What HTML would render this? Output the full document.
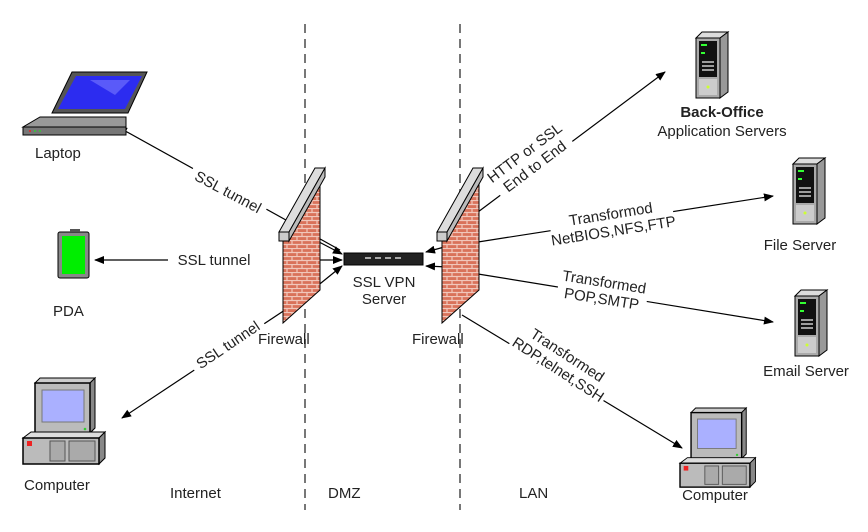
<!DOCTYPE html>
<html><head><meta charset="utf-8"><style>
html,body{margin:0;padding:0;background:#fff;}
svg{display:block;}
text{font-family:"Liberation Sans",sans-serif;font-size:15px;fill:#222;}
</style></head><body>
<svg width="868" height="532" viewBox="0 0 868 532" xmlns="http://www.w3.org/2000/svg">
<defs>
<marker id="ar" markerWidth="10" markerHeight="8" refX="9" refY="4" orient="auto" markerUnits="userSpaceOnUse">
<path d="M0,0 L10,4 L0,8 z" fill="#000"/></marker>
<pattern id="brick" width="10" height="8" patternUnits="userSpaceOnUse">
<rect width="10" height="8" fill="#d9725a"/>
<path d="M0,0.5H10M0,4.5H10M2,0V4M7,4V8" stroke="#f1c7bb" stroke-width="1.2"/>
</pattern>
<g id="tower">
<polygon points="0,6 6,0 32,0 24,6" fill="#ddd" stroke="#000"/>
<polygon points="24,6 32,0 32,60 24,66" fill="#999" stroke="#000"/>
<rect x="0" y="6" width="24" height="60" fill="#aaa" stroke="#000"/>
<rect x="3" y="9" width="18" height="36" fill="#111"/>
<rect x="5" y="12" width="6" height="2" fill="#3f3"/>
<rect x="5" y="20" width="4" height="2" fill="#3f3"/>
<path d="M6,30H18M6,34H18M6,38H18" stroke="#ccc" stroke-width="1.5"/>
<rect x="3" y="47" width="18" height="16" fill="#ccc"/>
<circle cx="12" cy="55" r="1.5" fill="#cf3"/>
</g>
<g id="pc">
<polygon points="12,5 17,0 72,0 67,5" fill="#ccc" stroke="#000"/>
<polygon points="67,5 72,0 72,50 67,55" fill="#888" stroke="#000"/>
<rect x="12" y="5" width="55" height="50" fill="#bbb" stroke="#000" stroke-width="1.5"/>
<rect x="19" y="12" width="42" height="32" fill="#aab0ff" stroke="#777"/>
<circle cx="62" cy="51" r="1.3" fill="#3c3"/>
<polygon points="0,60 8,54 82,54 76,60" fill="#ddd" stroke="#000"/>
<polygon points="76,60 82,54 82,80 76,86" fill="#888" stroke="#000"/>
<rect x="0" y="60" width="76" height="26" fill="#bbb" stroke="#000" stroke-width="1.5"/>
<rect x="4" y="63" width="5" height="5" fill="#e22"/>
<rect x="27" y="63" width="15" height="20" fill="#aaa" stroke="#555"/>
<rect x="46" y="63" width="26" height="20" fill="#aaa" stroke="#555"/>
</g>
</defs>

<line x1="305" y1="24" x2="305" y2="510" stroke="#777" stroke-width="2" stroke-dasharray="9,6"/>
<line x1="460" y1="24" x2="460" y2="510" stroke="#777" stroke-width="2" stroke-dasharray="9,6"/>

<g stroke="#000" stroke-width="1.2">
<line x1="340" y1="250" x2="118" y2="127" marker-end="url(#ar)"/>
<line x1="300" y1="232" x2="342" y2="254" marker-end="url(#ar)"/>
<line x1="250" y1="260" x2="95" y2="260" marker-end="url(#ar)"/>
<line x1="300" y1="260" x2="342" y2="260" marker-end="url(#ar)"/>
<line x1="300" y1="300" x2="122" y2="418" marker-end="url(#ar)"/>
<line x1="300" y1="300" x2="342" y2="266" marker-end="url(#ar)"/>
<line x1="470" y1="240" x2="426" y2="252" marker-end="url(#ar)"/>
<line x1="470" y1="268" x2="426" y2="266" marker-end="url(#ar)"/>
<line x1="478" y1="212" x2="665" y2="72" marker-end="url(#ar)"/>
<line x1="478" y1="242" x2="773" y2="196" marker-end="url(#ar)"/>
<line x1="478" y1="274" x2="773" y2="322" marker-end="url(#ar)"/>
<line x1="462" y1="315" x2="682" y2="448" marker-end="url(#ar)"/>
</g>

<g transform="translate(228,192) rotate(28)"><rect x="-42" y="-10" width="84" height="18" fill="#fff"/><text text-anchor="middle" y="5">SSL tunnel</text></g>
<rect x="168" y="250" width="92" height="18" fill="#fff"/><text x="214" y="265" text-anchor="middle">SSL tunnel</text>
<g transform="translate(228,345) rotate(-34)"><rect x="-42" y="-10" width="84" height="18" fill="#fff"/><text text-anchor="middle" y="5">SSL tunnel</text></g>

<g transform="translate(530,160) rotate(-37)"><rect x="-45" y="-20" width="90" height="36" fill="#fff"/><text text-anchor="middle" y="-4">HTTP or SSL</text><text text-anchor="middle" y="13">End to End</text></g>
<g transform="translate(612,222) rotate(-9)"><rect x="-62" y="-18" width="124" height="36" fill="#fff"/><text text-anchor="middle" y="-3">Transformod</text><text text-anchor="middle" y="14">NetBIOS,NFS,FTP</text></g>
<g transform="translate(603,290) rotate(9)"><rect x="-45" y="-18" width="90" height="36" fill="#fff"/><text text-anchor="middle" y="-3">Transformed</text><text text-anchor="middle" y="14">POP,SMTP</text></g>
<g transform="translate(563,362) rotate(33)"><rect x="-55" y="-18" width="110" height="36" fill="#fff"/><text text-anchor="middle" y="-3">Transformed</text><text text-anchor="middle" y="14">RDP,telnet,SSH</text></g>

<g>
<polygon points="283,238 320,176 320,290 283,323" fill="url(#brick)" stroke="#000"/>
<polygon points="279,232 315,168 325,168 289,232" fill="#ddd" stroke="#000"/>
<polygon points="279,232 289,232 289,241 279,241" fill="#ccc" stroke="#000"/>
<polygon points="289,232 325,168 325,177 289,241" fill="#bbb" stroke="#000"/>
</g>
<g>
<polygon points="442,238 479,176 479,290 442,323" fill="url(#brick)" stroke="#000"/>
<polygon points="437,232 473,168 483,168 447,232" fill="#ddd" stroke="#000"/>
<polygon points="437,232 447,232 447,241 437,241" fill="#ccc" stroke="#000"/>
<polygon points="447,232 483,168 483,177 447,241" fill="#bbb" stroke="#000"/>
</g>

<rect x="344" y="253" width="79" height="12" fill="#222" stroke="#000"/>
<path d="M365,258h6M375,258h6M385,258h6M395,258h6" stroke="#aaa" stroke-width="2"/>

<polygon points="72,72 147,72 128,113 52,113" fill="#555" stroke="#000"/>
<polygon points="76,76 142,76 125,109 58,109" fill="#2c2cf0"/>
<polygon points="90,80 130,80 115,95" fill="#7a7aff" opacity="0.6"/>
<polygon points="40,117 126,117 126,127 23,127" fill="#999" stroke="#000"/>
<rect x="23" y="127" width="103" height="8" fill="#777" stroke="#000"/>
<circle cx="30" cy="131" r="1" fill="#e22"/><circle cx="35" cy="131" r="1" fill="#3c3"/><circle cx="40" cy="131" r="1" fill="#3c3"/>

<rect x="58" y="232" width="31" height="46" rx="2" fill="#888" stroke="#000"/>
<rect x="62" y="236" width="23" height="38" fill="#00ee00"/>
<rect x="70" y="229" width="10" height="3" fill="#555"/>

<use href="#pc" x="23" y="378"/>
<use href="#pc" x="680" y="408" transform="translate(680,408) scale(0.92) translate(-680,-408)"/>

<use href="#tower" x="696" y="32"/>
<use href="#tower" x="793" y="158"/>
<use href="#tower" x="795" y="290"/>

<text x="35" y="158">Laptop</text>
<text x="53" y="316">PDA</text>
<text x="24" y="490">Computer</text>
<text x="258" y="344">Firewall</text>
<text x="412" y="344">Firewall</text>
<text x="384" y="287" text-anchor="middle">SSL VPN</text>
<text x="384" y="304" text-anchor="middle">Server</text>
<text x="170" y="498">Internet</text>
<text x="328" y="498">DMZ</text>
<text x="519" y="498">LAN</text>
<text x="722" y="117" text-anchor="middle" style="font-weight:bold">Back-Office</text>
<text x="722" y="136" text-anchor="middle">Application Servers</text>
<text x="800" y="250" text-anchor="middle">File Server</text>
<text x="806" y="376" text-anchor="middle">Email Server</text>
<text x="715" y="500" text-anchor="middle">Computer</text>
</svg>
</body></html>
